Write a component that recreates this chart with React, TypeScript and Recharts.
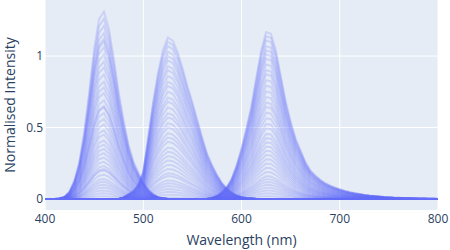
import { LineChart, Line, XAxis, YAxis, CartesianGrid } from 'recharts'

// sampled wavelengths (nm)
const wavelengths = [
  400, 405, 410, 415, 420, 425, 430, 435, 440, 445, 450, 455, 460, 465, 470, 475, 480, 485, 490, 495,
  500, 505, 510, 515, 520, 525, 530, 535, 540, 545, 550, 555, 560, 565, 570, 575, 580, 585, 590, 595,
  600, 605, 610, 615, 620, 625, 630, 635, 640, 645, 650, 655, 660, 665, 670, 675, 680, 685, 690, 695,
  700, 705, 710, 715, 720, 725, 730, 735, 740, 745, 750, 755, 760, 765, 770, 775, 780, 785, 790, 795, 800,
]

// normalised LED profiles
const blueShape = [
  0, 0, 0, 0.003, 0.012, 0.04, 0.1, 0.2, 0.36, 0.57, 0.8, 0.96, 1.0, 0.91, 0.75, 0.57, 0.42, 0.29, 0.2, 0.14,
  0.09, 0.05, 0.025, 0.01, 0.004, 0, 0, 0, 0, 0, 0, 0, 0, 0, 0, 0, 0, 0, 0, 0,
  0, 0, 0, 0, 0, 0, 0, 0, 0, 0, 0, 0, 0, 0, 0, 0, 0, 0, 0, 0,
  0, 0, 0, 0, 0, 0, 0, 0, 0, 0, 0, 0, 0, 0, 0, 0, 0, 0, 0, 0, 0,
]
const greenShape = [
  0, 0, 0, 0, 0, 0, 0, 0, 0, 0, 0, 0, 0, 0, 0, 0, 0.01, 0.03, 0.05, 0.09,
  0.17, 0.38, 0.6, 0.78, 0.92, 1.0, 0.98, 0.91, 0.81, 0.7, 0.6, 0.49, 0.38, 0.28, 0.21, 0.15, 0.1, 0.065, 0.04, 0.022,
  0.012, 0.006, 0.003, 0, 0, 0, 0, 0, 0, 0, 0, 0, 0, 0, 0, 0, 0, 0, 0, 0,
  0, 0, 0, 0, 0, 0, 0, 0, 0, 0, 0, 0, 0, 0, 0, 0, 0, 0, 0, 0, 0,
]
const redShape = [
  0, 0, 0, 0, 0, 0, 0, 0, 0, 0, 0, 0, 0, 0, 0, 0, 0, 0, 0, 0,
  0, 0, 0, 0, 0, 0, 0, 0, 0, 0, 0, 0, 0, 0, 0.005, 0.018, 0.04, 0.07, 0.12, 0.2,
  0.3, 0.42, 0.55, 0.72, 0.88, 0.99, 0.98, 0.88, 0.73, 0.58, 0.46, 0.36, 0.29, 0.22, 0.17, 0.14, 0.115, 0.095, 0.08, 0.068,
  0.058, 0.049, 0.041, 0.035, 0.03, 0.025, 0.021, 0.018, 0.015, 0.012, 0.01, 0.008, 0.007, 0.005, 0.004, 0.003, 0.002, 0.002, 0.001, 0.001, 0,
]

// peak heights of each measured spectrum
const blueAmps = [
  1.31, 1.26, 1.21, 1.16, 1.12, 1.1, 1.06, 1.01, 0.96, 0.92, 0.87, 0.82, 0.78, 0.74, 0.69, 0.65, 0.64, 0.6, 0.56, 0.52,
  0.48, 0.45, 0.41, 0.38, 0.35, 0.32, 0.29, 0.26, 0.23, 0.21, 0.2, 0.17, 0.14, 0.12, 0.1, 0.08, 0.06, 0.04, 0.02,
]
const greenAmps = [
  1.13, 1.1, 1.07, 1.03, 1.0, 0.97, 0.93, 0.9, 0.86, 0.82, 0.79, 0.75, 0.71, 0.68, 0.64, 0.6, 0.57, 0.53, 0.5, 0.46,
  0.43, 0.4, 0.36, 0.33, 0.3, 0.27, 0.24, 0.21, 0.18, 0.16, 0.13, 0.11, 0.09, 0.07, 0.05, 0.03, 0.01,
]
const redAmps = [
  1.18, 1.15, 1.12, 1.08, 1.05, 1.02, 0.99, 0.95, 0.91, 0.88, 0.84, 0.8, 0.76, 0.72, 0.68, 0.65, 0.61, 0.57, 0.53, 0.5,
  0.46, 0.43, 0.4, 0.37, 0.34, 0.31, 0.28, 0.25, 0.22, 0.19, 0.16, 0.14, 0.12, 0.1, 0.08, 0.06, 0.04, 0.02,
]

const xTicks = [400, 500, 600, 700, 800]
const yTicks = [0, 0.5, 1]

const groups = [
  { key: 'b', shape: blueShape, amps: blueAmps },
  { key: 'g', shape: greenShape, amps: greenAmps },
  { key: 'r', shape: redShape, amps: redAmps },
]

const seriesKeys: string[] = []
groups.forEach(g => g.amps.forEach((_, j) => seriesKeys.push(`${g.key}${j}`)))

const data = wavelengths.map((wl, i) => {
  const row: Record<string, number> = { wl }
  groups.forEach(g => {
    g.amps.forEach((a, j) => {
      row[`${g.key}${j}`] = a * g.shape[i]
    })
  })
  return row
})

const font = '"Open Sans", verdana, arial, sans-serif'
const ink = '#2a3f5f'

export default function App() {
  return (
    <div style={{ position: 'absolute', left: 0, top: 0, width: 450, height: 250, background: '#fff' }}>
      <LineChart width={450} height={250} data={data} margin={{ top: 0, right: 12, left: 0, bottom: 0 }}>
        <CartesianGrid fill="#E5ECF6" stroke="#fff" strokeWidth={1} horizontalValues={yTicks} verticalValues={xTicks} />
        <XAxis
          dataKey="wl"
          type="number"
          domain={[400, 800]}
          ticks={xTicks}
          height={40}
          axisLine={false}
          tickLine={false}
          tickSize={0}
          tickMargin={4}
          tick={{ fontSize: 12, fill: ink, fontFamily: font }}
          label={{ value: 'Wavelength (nm)', position: 'insideBottom', offset: 5, fontSize: 14, fill: ink, fontFamily: font }}
        />
        <YAxis
          type="number"
          domain={[-0.077, 1.392]}
          allowDataOverflow
          ticks={yTicks}
          width={45}
          axisLine={false}
          tickLine={false}
          tickSize={0}
          tickMargin={2}
          tick={{ fontSize: 12, fill: ink, fontFamily: font }}
          label={{
            value: 'Normalised Intensity',
            angle: -90,
            position: 'insideLeft',
            offset: 10,
            fontSize: 14,
            fill: ink,
            fontFamily: font,
            style: { textAnchor: 'middle' },
          }}
        />
        {seriesKeys.map(k => (
          <Line
            key={k}
            dataKey={k}
            type="linear"
            stroke="#636efa"
            strokeOpacity={0.2}
            strokeWidth={2}
            dot={false}
            activeDot={false}
            isAnimationActive={false}
          />
        ))}
      </LineChart>
    </div>
  )
}
